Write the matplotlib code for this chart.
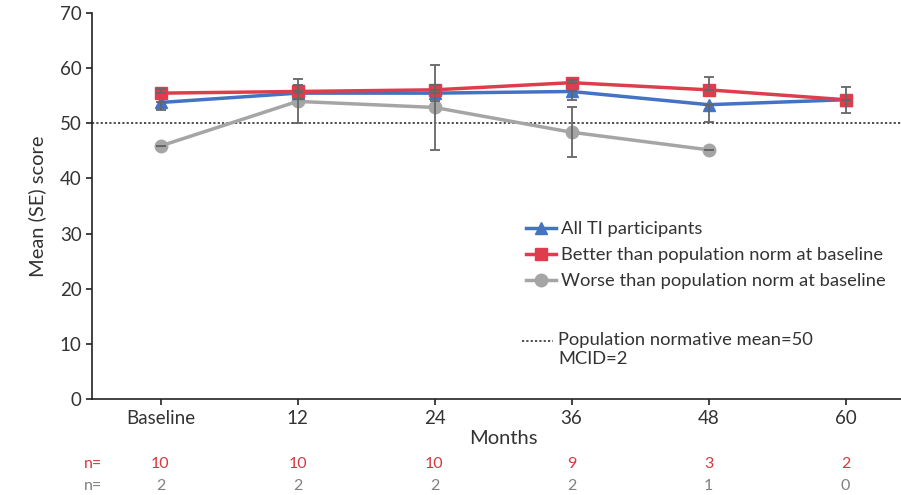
import numpy as np
import matplotlib.pyplot as plt
from matplotlib.lines import Line2D

# data
categories = ['Baseline', '12', '24', '36', '48', '60']
all_ti = [53.8, 55.5, 55.5, 55.8, 53.4, 54.3]
all_ti_err_low = [1.3, 1.0, 1.4, 1.5, 3.1, 2.4]
better = [55.5, 55.8, 56.1, 57.4, 56.1, 54.3]
better_err_high = [0.8, 1.2, 0.8, 0.5, 2.3, 2.4]
worse = [45.9, 54.0, 52.9, 48.4, 45.2, np.nan]
worse_err = [0.0, 4.0, 7.7, 4.5, 0.0, 0.0]
n_better = ['10', '10', '10', '9', '3', '2']
n_worse = ['2', '2', '2', '2', '1', '0']
norm_mean = 50

plt.rcParams['font.family'] = ['Lato', 'DejaVu Sans']
txt = '#333333'
blue, red, grey = '#4472C4', '#DE3E4C', '#A5A5A5'
ecol = '#666666'
dotted = (0, (1.2, 1.2))

fig = plt.figure(figsize=(9.01, 4.95), dpi=100)
ax = fig.add_axes([92/901, (495-398.7)/495, 822/901, 385.4/495])
x = np.arange(len(categories))

ax.axhline(norm_mean, color='#404040', linestyle=dotted, lw=1.3, zorder=1)

ax.plot(x, all_ti, color=blue, lw=2.5, marker='^', ms=9, zorder=3, label='All TI participants')
ax.plot(x, better, color=red, lw=2.5, marker='s', ms=8.5, zorder=3, label='Better than population norm at baseline')
ax.plot(x, worse, color=grey, lw=2.5, marker='o', ms=9, zorder=2, label='Worse than population norm at baseline')

# error bars (blue downwards, red upwards, grey both)
ax.errorbar(x, all_ti, yerr=[all_ti_err_low, [0]*6], fmt='none', ecolor=ecol, elinewidth=1.3, capsize=3.5, capthick=1.3, zorder=4)
ax.errorbar(x, better, yerr=[[0]*6, better_err_high], fmt='none', ecolor=ecol, elinewidth=1.3, capsize=3.5, capthick=1.3, zorder=4)
ax.errorbar(x[:5], worse[:5], yerr=[worse_err[:5], worse_err[:5]], fmt='none', ecolor=ecol, elinewidth=1.3, capsize=3.5, capthick=1.3, zorder=4)

ax.set_xlim(-0.5, 5.5)
ax.set_ylim(0, 70)
ax.set_yticks(range(0, 71, 10))
ax.set_xticks(x)
ax.set_xticklabels(categories)
ax.spines['top'].set_visible(False)
ax.spines['right'].set_visible(False)
for s in ['left', 'bottom']:
    ax.spines[s].set_color('#222222')
    ax.spines[s].set_linewidth(1.2)
ax.tick_params(axis='both', colors='#222222', labelcolor=txt, labelsize=13.5, length=4, width=1.2)
ax.tick_params(axis='x', pad=4)
ax.set_ylabel('Mean (SE) score', fontsize=14.5, color=txt, labelpad=10)
ax.set_xlabel('Months', fontsize=14.5, color=txt, labelpad=2)

leg = fig.legend(loc='upper left', bbox_to_anchor=(517/901, 1-212/495), frameon=False, fontsize=13.2,
                 handlelength=1.6, handletextpad=0.3, labelspacing=0.55, borderpad=0, labelcolor=txt)

# normative mean note with its dotted key
fig.add_artist(Line2D([522/901, 553/901], [1-341/495, 1-341/495], color='#404040', linestyle=dotted, lw=1.3))
fig.text(558/901, 1-340/495, 'Population normative mean=50', fontsize=13.2, color=txt, va='center')
fig.text(558/901, 1-359/495, 'MCID=2', fontsize=13.2, color=txt, va='center')

# n= rows under the axis
fig.text(84/901, 1-464/495, 'n=', color='#D9363E', fontsize=11.5, va='center')
fig.text(84/901, 1-486/495, 'n=', color='#808080', fontsize=11.5, va='center')
for i in range(len(categories)):
    xf = (92 + 137*(i + 0.5))/901
    fig.text(xf, 1-464/495, n_better[i], color='#D9363E', fontsize=11.5, va='center', ha='center')
    fig.text(xf, 1-486/495, n_worse[i], color='#808080', fontsize=11.5, va='center', ha='center')

fig.savefig('out.png', dpi=100)
